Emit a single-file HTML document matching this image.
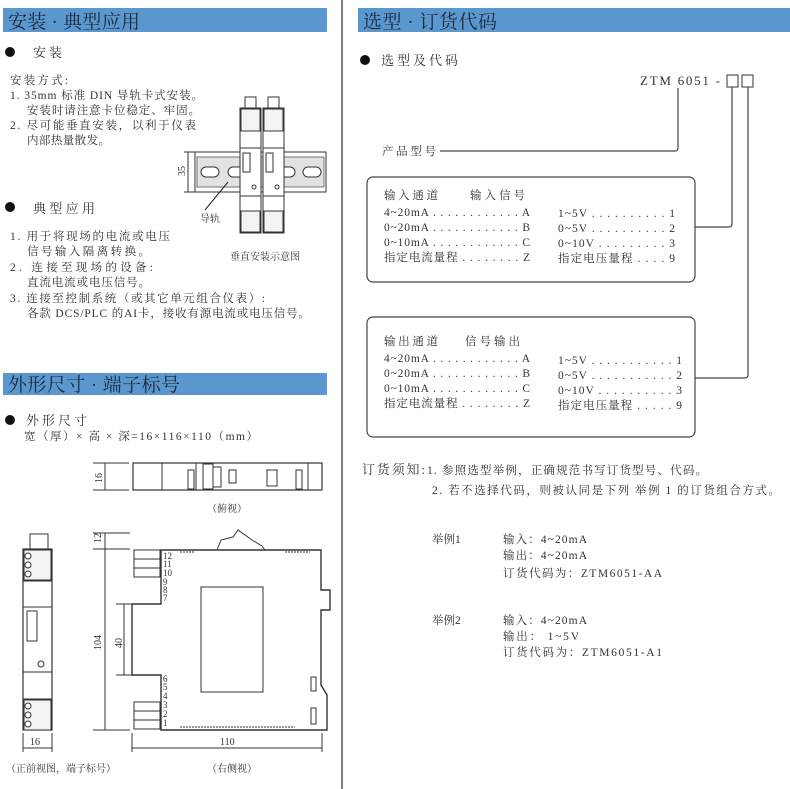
<!DOCTYPE html>
<html><head><meta charset="utf-8"><style>
html,body{margin:0;padding:0;background:#fff;}
svg{display:block}
text{font-family:"Liberation Serif","Noto Serif CJK SC",serif;fill:#333;}
.h{font-size:19px;fill:#1c2a3a}
.t{font-size:11.5px}
.s{font-size:10px}
.b{font-size:13px}
</style></head><body>
<svg width="790" height="789" viewBox="0 0 790 789" xmlns="http://www.w3.org/2000/svg">
<line x1="342" y1="0" x2="342" y2="789" stroke="#555" stroke-width="1.5"/>
<rect x="3" y="8" width="324" height="24" fill="#5a97cf"/>
<text class="h" x="8" y="28" textLength="132" lengthAdjust="spacing">安装 · 典型应用</text>
<rect x="358" y="8" width="432" height="24" fill="#5a97cf"/>
<text class="h" x="363" y="28" textLength="134" lengthAdjust="spacing">选型 · 订货代码</text>
<rect x="3" y="373" width="324" height="22" fill="#5a97cf"/>
<text class="h" x="8" y="391" textLength="172" lengthAdjust="spacing">外形尺寸 · 端子标号</text>

<circle cx="10" cy="52" r="5" fill="#111"/>
<text class="b" x="33" y="57" textLength="29" lengthAdjust="spacing">安装</text>
<text class="t" x="10" y="84" textLength="58" lengthAdjust="spacing">安装方式:</text>
<text class="t" x="10" y="99" textLength="193" lengthAdjust="spacing">1. 35mm 标准 DIN 导轨卡式安装。</text>
<text class="t" x="27" y="114" textLength="173" lengthAdjust="spacing">安装时请注意卡位稳定、牢固。</text>
<text class="t" x="10" y="129" textLength="186" lengthAdjust="spacing">2. 尽可能垂直安装，以利于仪表</text>
<text class="t" x="27" y="144" textLength="83" lengthAdjust="spacing">内部热量散发。</text>
<circle cx="10" cy="207" r="5" fill="#111"/>
<text class="b" x="33" y="213" textLength="62" lengthAdjust="spacing">典型应用</text>
<text class="t" x="10" y="240" textLength="160" lengthAdjust="spacing">1. 用于将现场的电流或电压</text>
<text class="t" x="27" y="255" textLength="123" lengthAdjust="spacing">信号输入隔离转换。</text>
<text class="t" x="10" y="271" textLength="143" lengthAdjust="spacing">2. 连接至现场的设备:</text>
<text class="t" x="27" y="286" textLength="123" lengthAdjust="spacing">直流电流或电压信号。</text>
<text class="t" x="10" y="302" textLength="255" lengthAdjust="spacing">3. 连接至控制系统（或其它单元组合仪表）:</text>
<text class="t" x="27" y="317" textLength="283" lengthAdjust="spacing">各款 DCS/PLC 的AI卡，接收有源电流或电压信号。</text>

<rect x="195" y="152" width="131" height="40" fill="#fff" stroke="#333"/>
<rect x="197" y="157" width="127" height="30" fill="#e2e2e2" stroke="#555" stroke-width="0.8"/>
<rect x="201" y="167" width="18" height="10" rx="5" fill="#fff" stroke="#333"/>
<rect x="228" y="167" width="18" height="10" rx="5" fill="#fff" stroke="#333"/>
<rect x="277" y="167" width="18" height="10" rx="5" fill="#fff" stroke="#333"/>
<rect x="303" y="167" width="18" height="10" rx="5" fill="#fff" stroke="#333"/>
<line x1="188" y1="152" x2="188" y2="192" stroke="#333"/>
<line x1="184" y1="152" x2="196" y2="152" stroke="#333"/>
<line x1="184" y1="192" x2="196" y2="192" stroke="#333"/>
<text class="s" transform="translate(185,176) rotate(-90)">35</text>
<line x1="205" y1="210" x2="228" y2="182" stroke="#222"/>
<text class="s" x="200" y="222">导轨</text>
<text class="s" x="230" y="260">垂直安装示意图</text>
<g stroke="#333" fill="#fff">
<rect x="245" y="97" width="11" height="12"/><rect x="268" y="97" width="11" height="12"/>
<rect x="240" y="108" width="21" height="125"/><rect x="263" y="108" width="21" height="125"/>
<rect x="241" y="109" width="19" height="22" fill="#f3f3f3"/><rect x="264" y="109" width="19" height="22" fill="#f3f3f3"/>
<rect x="241" y="211" width="19" height="21" fill="#f3f3f3"/><rect x="264" y="211" width="19" height="21" fill="#f3f3f3"/>
<rect x="240" y="148" width="21" height="48"/><rect x="263" y="148" width="21" height="48"/>
<rect x="243" y="153" width="7" height="19"/><rect x="266" y="153" width="7" height="19"/>
<circle cx="254" cy="187" r="2"/><circle cx="277" cy="187" r="2"/>
</g>

<circle cx="10" cy="420" r="5" fill="#111"/>
<text class="b" x="26" y="425" textLength="61" lengthAdjust="spacing">外形尺寸</text>
<text class="t" x="24" y="440" textLength="234" lengthAdjust="spacing">宽（厚）× 高 × 深=16×116×110（mm）</text>
<g stroke="#333" fill="none">
<line x1="93" y1="463" x2="129" y2="463"/><line x1="93" y1="490" x2="129" y2="490"/>
<line x1="105" y1="463" x2="105" y2="490"/>
<rect x="133" y="463" width="189" height="27" stroke-width="1.2"/>
<line x1="162" y1="463" x2="162" y2="490"/>
<line x1="196" y1="463" x2="196" y2="490"/>
<rect x="188" y="470" width="6" height="19"/>
<rect x="203" y="464" width="10" height="25"/>
<rect x="213" y="467" width="8" height="20"/>
<rect x="229" y="470" width="7" height="13"/>
<rect x="267" y="470" width="10" height="16"/>
<rect x="296" y="470" width="6" height="19"/>
<line x1="308" y1="463" x2="308" y2="490"/>
</g>
<text class="s" transform="translate(102,483) rotate(-90)">16</text>
<text class="s" x="207" y="512">（俯视）</text>

<g stroke="#333" fill="#fff">
<rect x="30" y="534" width="18" height="15"/>
<rect x="23" y="549" width="29" height="181" stroke-width="1.2"/>
<rect x="24" y="550" width="27" height="30" fill="#f3f3f3"/>
<rect x="24" y="700" width="27" height="30" fill="#f3f3f3"/>
<line x1="23" y1="581" x2="52" y2="581"/><line x1="23" y1="607" x2="52" y2="607"/>
<line x1="23" y1="672" x2="52" y2="672"/><line x1="23" y1="699" x2="52" y2="699"/>
<rect x="27" y="611" width="10" height="30"/>
<circle cx="28" cy="556" r="3"/><circle cx="28" cy="565" r="3"/><circle cx="28" cy="574" r="3"/>
<circle cx="28" cy="706" r="3"/><circle cx="28" cy="715" r="3"/><circle cx="28" cy="724" r="3"/>
<circle cx="41" cy="664" r="3"/>
</g>
<g stroke="#333"><line x1="23" y1="733" x2="23" y2="752"/><line x1="52" y1="733" x2="52" y2="752"/><line x1="23" y1="748" x2="52" y2="748"/></g>
<text class="s" x="30" y="745">16</text>
<text class="s" x="6" y="772">（正前视图，端子标号）</text>

<g stroke="#333" fill="none">
<line x1="93" y1="533" x2="130" y2="533"/><line x1="93" y1="549" x2="130" y2="549"/><line x1="93" y1="730" x2="130" y2="730"/>
<line x1="105" y1="533" x2="105" y2="730"/>
<line x1="116" y1="604" x2="133" y2="604"/><line x1="116" y1="675" x2="133" y2="675"/>
<line x1="124" y1="604" x2="124" y2="675"/>
<path d="M161 550 H321 V590 H330 V610 H321 V685 L327 695 V730 H161 V675 H132 V604 H161 Z" stroke-width="1.4" fill="#fff"/>
<path d="M217 550 L221 540 L233 537 L238 530 L252 540 L262 546 L265 550"/>
<rect x="201" y="587" width="62" height="105"/>
<rect x="134" y="550" width="26" height="9"/><rect x="134" y="559" width="26" height="9"/><rect x="134" y="568" width="26" height="9"/>
<rect x="134" y="702" width="26" height="9"/><rect x="134" y="711" width="26" height="9"/><rect x="134" y="720" width="26" height="9"/>
<rect x="311" y="677" width="5" height="14"/><rect x="311" y="708" width="5" height="16"/>
<line x1="180" y1="727" x2="295" y2="727" stroke-dasharray="2,1"/>
<line x1="180" y1="552" x2="195" y2="552" stroke-dasharray="2,1"/>
<line x1="285" y1="552" x2="310" y2="552" stroke-dasharray="2,1"/>
<line x1="132" y1="733" x2="132" y2="752"/><line x1="322" y1="733" x2="322" y2="752"/>
<line x1="132" y1="748" x2="322" y2="748"/>
</g>
<g>
<text x="163" y="559" font-size="9">12</text><text x="163" y="567" font-size="9">11</text><text x="163" y="576" font-size="9">10</text>
<text x="163" y="585" font-size="9">9</text><text x="163" y="593" font-size="9">8</text><text x="163" y="601" font-size="9">7</text>
<text x="163" y="682" font-size="9">6</text><text x="163" y="690" font-size="9">5</text><text x="163" y="699" font-size="9">4</text>
<text x="163" y="708" font-size="9">3</text><text x="163" y="717" font-size="9">2</text><text x="163" y="726" font-size="9">1</text>
</g>
<text class="s" transform="translate(101,543) rotate(-90)">12</text>
<text class="s" transform="translate(101,650) rotate(-90)">104</text>
<text class="s" transform="translate(122,648) rotate(-90)">40</text>
<text class="s" x="220" y="745">110</text>
<text class="s" x="207" y="772">（右侧视）</text>

<circle cx="365" cy="60" r="5" fill="#111"/>
<text class="b" x="381" y="65" textLength="77" lengthAdjust="spacing">选型及代码</text>
<text class="b" x="640" y="85" textLength="80" lengthAdjust="spacing">ZTM 6051 -</text>
<rect x="727" y="75" width="11" height="12" fill="none" stroke="#333"/>
<rect x="742" y="75" width="11" height="12" fill="none" stroke="#333"/>
<g stroke="#444" fill="none" stroke-width="1.2">
<path d="M678 88 V148 Q678 151 675 151 H440"/>
<path d="M732 87 V224 Q732 227 729 227 H695"/>
<path d="M748 87 V375 Q748 378 745 378 H695"/>
<rect x="367" y="177" width="328" height="105" rx="6"/>
<rect x="367" y="317" width="328" height="120" rx="6"/>
</g>
<text class="t" x="382" y="155" textLength="54" lengthAdjust="spacing">产品型号</text>
<text class="t" x="384" y="199" textLength="54" lengthAdjust="spacing">输入通道</text><text class="t" x="470" y="199" textLength="55" lengthAdjust="spacing">输入信号</text>
<text class="t" x="384" y="216" textLength="146" lengthAdjust="spacing">4~20mA . . . . . . . . . . . . A</text>
<text class="t" x="384" y="231" textLength="146" lengthAdjust="spacing">0~20mA . . . . . . . . . . . . B</text>
<text class="t" x="384" y="246" textLength="146" lengthAdjust="spacing">0~10mA . . . . . . . . . . . . C</text>
<text class="t" x="384" y="261" textLength="146" lengthAdjust="spacing">指定电流量程 . . . . . . . . Z</text>
<text class="t" x="558" y="217" textLength="117" lengthAdjust="spacing">1~5V . . . . . . . . . . 1</text>
<text class="t" x="558" y="232" textLength="117" lengthAdjust="spacing">0~5V . . . . . . . . . . 2</text>
<text class="t" x="558" y="247" textLength="117" lengthAdjust="spacing">0~10V . . . . . . . . . 3</text>
<text class="t" x="558" y="262" textLength="117" lengthAdjust="spacing">指定电压量程 . . . . 9</text>
<text class="t" x="384" y="345" textLength="54" lengthAdjust="spacing">输出通道</text><text class="t" x="465" y="345" textLength="55" lengthAdjust="spacing">信号输出</text>
<text class="t" x="384" y="362" textLength="146" lengthAdjust="spacing">4~20mA . . . . . . . . . . . . A</text>
<text class="t" x="384" y="377" textLength="146" lengthAdjust="spacing">0~20mA . . . . . . . . . . . . B</text>
<text class="t" x="384" y="392" textLength="146" lengthAdjust="spacing">0~10mA . . . . . . . . . . . . C</text>
<text class="t" x="384" y="407" textLength="146" lengthAdjust="spacing">指定电流量程 . . . . . . . . Z</text>
<text class="t" x="558" y="364" textLength="124" lengthAdjust="spacing">1~5V . . . . . . . . . . . 1</text>
<text class="t" x="558" y="379" textLength="124" lengthAdjust="spacing">0~5V . . . . . . . . . . . 2</text>
<text class="t" x="558" y="394" textLength="124" lengthAdjust="spacing">0~10V . . . . . . . . . . 3</text>
<text class="t" x="558" y="409" textLength="124" lengthAdjust="spacing">指定电压量程 . . . . . 9</text>

<text class="b" x="362" y="474" textLength="63" lengthAdjust="spacing">订货须知:</text>
<text class="t" x="427" y="474" textLength="280" lengthAdjust="spacing">1. 参照选型举例，正确规范书写订货型号、代码。</text>
<text class="t" x="432" y="494" textLength="348" lengthAdjust="spacing">2. 若不选择代码，则被认同是下列 举例 1 的订货组合方式。</text>
<text class="t" x="432" y="543">举例1</text>
<text class="t" x="503" y="543" textLength="84" lengthAdjust="spacing">输入：4~20mA</text>
<text class="t" x="503" y="559" textLength="84" lengthAdjust="spacing">输出：4~20mA</text>
<text class="t" x="503" y="577" textLength="159" lengthAdjust="spacing">订货代码为：ZTM6051-AA</text>
<text class="t" x="432" y="624">举例2</text>
<text class="t" x="503" y="624" textLength="84" lengthAdjust="spacing">输入：4~20mA</text>
<text class="t" x="503" y="640" textLength="76" lengthAdjust="spacing">输出： 1~5V</text>
<text class="t" x="503" y="656" textLength="159" lengthAdjust="spacing">订货代码为：ZTM6051-A1</text>
</svg>
</body></html>
